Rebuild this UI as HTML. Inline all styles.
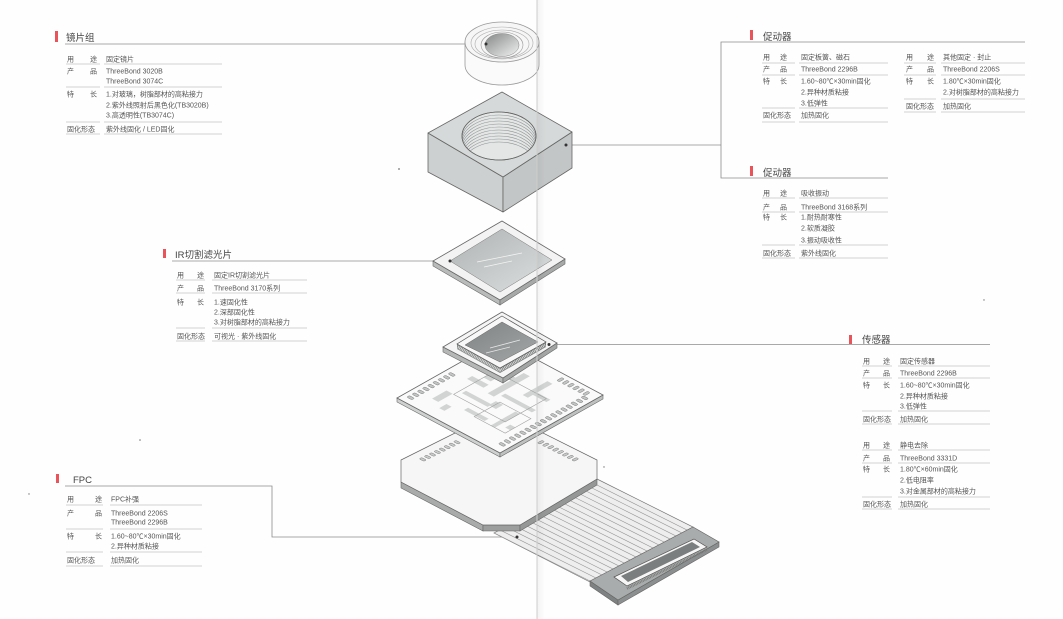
<!DOCTYPE html>
<html><head><meta charset="utf-8">
<style>
html,body{margin:0;padding:0;background:#fefefe;}
body{width:1063px;height:619px;overflow:hidden;}
svg{display:block;}
.t text{font-family:"Liberation Sans","Noto Sans CJK SC",sans-serif;font-size:7px;fill:#555;}
.h{font-family:"Liberation Sans","Noto Sans CJK SC",sans-serif;font-size:9.5px;fill:#444;}
.ln line{stroke:#c2c2c2;stroke-width:0.8;}
.nss{vector-effect:non-scaling-stroke;}
</style></head><body>
<svg width="1063" height="619" viewBox="0 0 1063 619" xmlns="http://www.w3.org/2000/svg">
<defs>
 <linearGradient id="lensg" x1="0" y1="0" x2="1" y2="1"><stop offset="0" stop-color="#858888"/><stop offset="1" stop-color="#f2f2f2"/></linearGradient>
 <linearGradient id="glass" x1="0" y1="0" x2="1" y2="1"><stop offset="0" stop-color="#aeb2b2"/><stop offset="1" stop-color="#dde0e0"/></linearGradient>
 <linearGradient id="chipg" x1="0" y1="0" x2="1" y2="1"><stop offset="0" stop-color="#7f8383"/><stop offset="1" stop-color="#a3a7a7"/></linearGradient>
 <clipPath id="hole"><ellipse cx="499" cy="136" rx="37" ry="24"/></clipPath>
 <clipPath id="cable"><polygon points="597,479 693,527 590,582 494,533"/></clipPath>
 <linearGradient id="fold" x1="0" x2="1"><stop offset="0" stop-color="#000" stop-opacity="0.045"/><stop offset="1" stop-color="#000" stop-opacity="0"/></linearGradient>
</defs>

<!-- connector lines -->
<g stroke="#8c8c8c" stroke-width="0.8" fill="none">
 <line x1="65" y1="44" x2="486" y2="44"/>
 <polyline points="566,145 721,145"/>
 <polyline points="1025,42 721,42 721,178 888,178"/>
 <line x1="172" y1="261" x2="450" y2="261"/>
 <line x1="549" y1="344.5" x2="990" y2="344.5"/>
 <polyline points="65,486 272,486 272,537 517,537"/>
</g>

<!-- ===== FLEX CABLE ===== -->
<polygon points="597,479 693,527 590,582 494,533" fill="#eeeeee" stroke="#777" stroke-width="0.7"/>
<g clip-path="url(#cable)" stroke="#9a9a9a" stroke-width="0.6">
 <line x1="474" y1="523" x2="614" y2="593"/>
 <line x1="480" y1="520" x2="620" y2="590"/>
 <line x1="486" y1="517" x2="626" y2="587"/>
 <line x1="491" y1="514" x2="631" y2="584"/>
 <line x1="497" y1="511" x2="637" y2="581"/>
 <line x1="503" y1="508" x2="643" y2="578"/>
 <line x1="508" y1="505" x2="648" y2="575"/>
 <line x1="514" y1="502" x2="654" y2="572"/>
 <line x1="520" y1="499" x2="660" y2="569"/>
 <line x1="526" y1="496" x2="666" y2="566"/>
 <line x1="531" y1="493" x2="671" y2="563"/>
 <line x1="537" y1="490" x2="677" y2="560"/>
 <line x1="543" y1="487" x2="683" y2="557"/>
 <line x1="548" y1="484" x2="688" y2="554"/>
 <line x1="554" y1="481" x2="694" y2="551"/>
 <line x1="560" y1="478" x2="700" y2="548"/>
 <line x1="566" y1="475" x2="706" y2="545"/>
 <line x1="571" y1="472" x2="711" y2="542"/>
</g>
<!-- connector plate -->
<polygon points="590,581 618,600 618,605 590,586" fill="#7f8282" stroke="#666" stroke-width="0.6"/>
<polygon points="618,600 719,542 719,547 618,605" fill="#8c8f8f" stroke="#666" stroke-width="0.6"/>
<polygon points="590,581 693,527 719,542 618,600" fill="#a9acac" stroke="#666" stroke-width="0.7"/>
<polygon points="614,577 694,539 707,547 627,586" fill="#f6f6f6" stroke="#555" stroke-width="0.7"/>
<polygon points="621,576 692,542 700,547 628,582" fill="#7b7e7e"/>
<line x1="627" y1="588.5" x2="707" y2="549.5" stroke="#777" stroke-width="2.6" stroke-dasharray="0.8 0.8"/>

<!-- ===== BASE (stiffener) ===== -->
<polygon points="401,482 483,525 483,531 401,488" fill="#a9abab" stroke="#666" stroke-width="0.6"/>
<polygon points="483,525 520,525 520,531 483,531" fill="#9c9e9e" stroke="#666" stroke-width="0.6"/>
<polygon points="520,525 597,479 597,485 520,531" fill="#959797" stroke="#666" stroke-width="0.6"/>
<polygon points="401,460 499,411 597,460 597,479 520,525 483,525 401,482" fill="#f6f6f6" stroke="#666" stroke-width="0.7"/>
<g transform="matrix(0.98,0.49,-0.98,0.49,499,411)" fill="#c9cbcb" stroke="#777">
 <rect class="nss" x="8" y="52" width="5" height="2.6" rx="1" stroke-width="0.5"/>
 <rect class="nss" x="8" y="57" width="5" height="2.6" rx="1" stroke-width="0.5"/>
 <rect class="nss" x="8" y="62" width="5" height="2.6" rx="1" stroke-width="0.5"/>
 <rect class="nss" x="8" y="67" width="5" height="2.6" rx="1" stroke-width="0.5"/>
 <rect class="nss" x="8" y="72" width="5" height="2.6" rx="1" stroke-width="0.5"/>
 <rect class="nss" x="8" y="77" width="5" height="2.6" rx="1" stroke-width="0.5"/>
 <rect class="nss" x="8" y="82" width="5" height="2.6" rx="1" stroke-width="0.5"/>
 <rect class="nss" x="8" y="87" width="5" height="2.6" rx="1" stroke-width="0.5"/>
 <rect class="nss" x="52" y="8" width="2.6" height="5" rx="1" stroke-width="0.5"/>
 <rect class="nss" x="57" y="8" width="2.6" height="5" rx="1" stroke-width="0.5"/>
 <rect class="nss" x="62" y="8" width="2.6" height="5" rx="1" stroke-width="0.5"/>
 <rect class="nss" x="67" y="8" width="2.6" height="5" rx="1" stroke-width="0.5"/>
 <rect class="nss" x="72" y="8" width="2.6" height="5" rx="1" stroke-width="0.5"/>
 <rect class="nss" x="77" y="8" width="2.6" height="5" rx="1" stroke-width="0.5"/>
 <rect class="nss" x="82" y="8" width="2.6" height="5" rx="1" stroke-width="0.5"/>
 <rect class="nss" x="87" y="8" width="2.6" height="5" rx="1" stroke-width="0.5"/>
</g>

<!-- ===== PCB ===== -->
<polygon points="397,398 500,453 500,457 397,402" fill="#cfd1d1" stroke="#666" stroke-width="0.6"/>
<polygon points="500,453 603,395 603,399 500,457" fill="#bfc1c1" stroke="#666" stroke-width="0.6"/>
<polygon points="500,340 603,395 500,453 397,398" fill="#fafafa" stroke="#666" stroke-width="0.8"/>
<g transform="matrix(1.03,0.55,-1.03,0.58,500,340)">
 <g fill="#d2d4d4">
  <rect x="15" y="26" width="28" height="5"/>
  <rect x="41" y="18" width="6" height="35"/>
  <rect x="50" y="45" width="30" height="4"/>
  <rect x="18" y="45" width="16" height="5"/>
  <rect x="60" y="14" width="5" height="24"/>
  <rect x="28" y="61" width="25" height="4"/>
  <rect x="71" y="56" width="4" height="24"/>
  <rect x="18" y="70" width="6" height="14"/>
  <rect x="44" y="75" width="20" height="4"/>
  <rect x="62" y="29" width="16" height="4"/>
  <rect x="30" y="82" width="5" height="7"/>
  <rect x="80" y="70" width="5" height="5"/>
  <rect x="52" y="56" width="7" height="7"/>
  <rect x="25" y="35" width="7" height="6"/>
 </g>
 <g fill="none" stroke="#a0a0a0">
  <rect class="nss" x="25" y="30" width="50" height="40" stroke-width="0.6"/>
  <rect class="nss" x="55" y="55" width="30" height="25" stroke-width="0.6"/>
 </g>
 <g fill="#c3c5c5" stroke="#777">
  <rect class="nss" x="4" y="52" width="5" height="2.6" rx="1" stroke-width="0.5"/>
  <rect class="nss" x="4" y="57" width="5" height="2.6" rx="1" stroke-width="0.5"/>
  <rect class="nss" x="4" y="62" width="5" height="2.6" rx="1" stroke-width="0.5"/>
  <rect class="nss" x="4" y="67" width="5" height="2.6" rx="1" stroke-width="0.5"/>
  <rect class="nss" x="4" y="72" width="5" height="2.6" rx="1" stroke-width="0.5"/>
  <rect class="nss" x="4" y="77" width="5" height="2.6" rx="1" stroke-width="0.5"/>
  <rect class="nss" x="4" y="82" width="5" height="2.6" rx="1" stroke-width="0.5"/>
  <rect class="nss" x="4" y="87" width="5" height="2.6" rx="1" stroke-width="0.5"/>
  <rect class="nss" x="4" y="92" width="5" height="2.6" rx="1" stroke-width="0.5"/>
  <rect class="nss" x="64" y="4" width="2.6" height="5" rx="1" stroke-width="0.5"/>
  <rect class="nss" x="69" y="4" width="2.6" height="5" rx="1" stroke-width="0.5"/>
  <rect class="nss" x="74" y="4" width="2.6" height="5" rx="1" stroke-width="0.5"/>
  <rect class="nss" x="79" y="4" width="2.6" height="5" rx="1" stroke-width="0.5"/>
  <rect class="nss" x="84" y="4" width="2.6" height="5" rx="1" stroke-width="0.5"/>
  <rect class="nss" x="89" y="4" width="2.6" height="5" rx="1" stroke-width="0.5"/>
  <rect class="nss" x="91" y="10" width="5" height="2.6" rx="1" stroke-width="0.5"/>
  <rect class="nss" x="91" y="15" width="5" height="2.6" rx="1" stroke-width="0.5"/>
  <rect class="nss" x="91" y="20" width="5" height="2.6" rx="1" stroke-width="0.5"/>
  <rect class="nss" x="91" y="25" width="5" height="2.6" rx="1" stroke-width="0.5"/>
  <rect class="nss" x="91" y="30" width="5" height="2.6" rx="1" stroke-width="0.5"/>
  <rect class="nss" x="91" y="35" width="5" height="2.6" rx="1" stroke-width="0.5"/>
  <rect class="nss" x="91" y="40" width="5" height="2.6" rx="1" stroke-width="0.5"/>
  <rect class="nss" x="91" y="45" width="5" height="2.6" rx="1" stroke-width="0.5"/>
  <rect class="nss" x="91" y="50" width="5" height="2.6" rx="1" stroke-width="0.5"/>
  <rect class="nss" x="91" y="55" width="5" height="2.6" rx="1" stroke-width="0.5"/>
  <rect class="nss" x="91" y="60" width="5" height="2.6" rx="1" stroke-width="0.5"/>
  <rect class="nss" x="91" y="65" width="5" height="2.6" rx="1" stroke-width="0.5"/>
  <rect class="nss" x="91" y="70" width="5" height="2.6" rx="1" stroke-width="0.5"/>
  <rect class="nss" x="91" y="75" width="5" height="2.6" rx="1" stroke-width="0.5"/>
  <rect class="nss" x="91" y="80" width="5" height="2.6" rx="1" stroke-width="0.5"/>
  <rect class="nss" x="91" y="85" width="5" height="2.6" rx="1" stroke-width="0.5"/>
  <rect class="nss" x="91" y="90" width="5" height="2.6" rx="1" stroke-width="0.5"/>
 </g>
</g>

<!-- ===== SENSOR ===== -->
<polygon points="443,347 503,378 503,383 443,352" fill="#b5b7b7" stroke="#666" stroke-width="0.6"/>
<polygon points="503,378 557,343 557,348 503,383" fill="#a4a6a6" stroke="#666" stroke-width="0.6"/>
<polygon points="502,312 557,343 503,378 443,347" fill="#f5f5f5" stroke="#666" stroke-width="0.8"/>
<polygon points="457,344 500,368 500,373 457,349" fill="#8a8c8c"/>
<polygon points="500,368 546,342 546,347 500,373" fill="#7f8181"/>
<line x1="458" y1="347" x2="500" y2="370.5" stroke="#e2e2e2" stroke-width="3" stroke-dasharray="0.8 0.9"/>
<line x1="500" y1="370.5" x2="545" y2="345" stroke="#e2e2e2" stroke-width="3" stroke-dasharray="0.8 0.9"/>
<polygon points="502,316 546,342 500,368 457,344" fill="#f8f8f8" stroke="#555" stroke-width="0.7"/>
<polygon points="502,322 538,342 500,362 465,345" fill="url(#chipg)" stroke="#666" stroke-width="0.5"/>
<line x1="490" y1="348" x2="520" y2="340" stroke="#e8e8e8" stroke-width="0.8"/>
<line x1="486" y1="353" x2="510" y2="347" stroke="#e8e8e8" stroke-width="0.8"/>

<!-- ===== IR FILTER ===== -->
<polygon points="433,261 500,300 500,305 433,266" fill="#b9bbbb" stroke="#666" stroke-width="0.6"/>
<polygon points="500,300 565,259 565,264 500,305" fill="#a7a9a9" stroke="#666" stroke-width="0.6"/>
<polygon points="502,221 565,259 500,300 433,261" fill="#f3f3f3" stroke="#666" stroke-width="0.8"/>
<polygon points="502,229 552,260 500,292 450,261" fill="url(#glass)" stroke="#777" stroke-width="0.5"/>
<line x1="477" y1="262" x2="522" y2="253" stroke="#f4f4f4" stroke-width="0.8"/>
<line x1="484" y1="267" x2="512" y2="261" stroke="#f4f4f4" stroke-width="0.8"/>

<!-- ===== HOUSING ===== -->
<polygon points="428,133 503,177 503,212 428,172" fill="#cdd0d0" stroke="#666" stroke-width="0.8" stroke-linejoin="round"/>
<polygon points="503,177 572,132 572,168 503,212" fill="#c3c6c6" stroke="#666" stroke-width="0.8" stroke-linejoin="round"/>
<polygon points="502,92 572,132 503,177 428,133" fill="#d6d9d9" stroke="#666" stroke-width="0.8" stroke-linejoin="round"/>
<ellipse cx="499" cy="136" rx="37" ry="24" fill="#e4e6e6" stroke="#777" stroke-width="0.8"/>
<g clip-path="url(#hole)" fill="none" stroke="#8f9393" stroke-width="0.6">
 <ellipse cx="499" cy="139" rx="37" ry="24"/>
 <ellipse cx="499" cy="142" rx="37" ry="24"/>
 <ellipse cx="499" cy="145" rx="37" ry="24"/>
 <ellipse cx="499" cy="148" rx="37" ry="24"/>
 <ellipse cx="499" cy="151" rx="37" ry="24"/>
 <ellipse cx="499" cy="154" rx="37" ry="24"/>
 <ellipse cx="499" cy="157" rx="37" ry="24"/>
 <ellipse cx="499" cy="160" rx="37" ry="24"/>
 <ellipse cx="499" cy="163" rx="37" ry="24"/>
 <ellipse cx="499" cy="166" rx="37" ry="24"/>
</g>
<ellipse cx="499" cy="136" rx="37" ry="24" fill="none" stroke="#666" stroke-width="0.8"/>

<!-- ===== LENS ===== -->
<path d="M465,42 L465,65 A37,20 0 0 0 539,65 L539,42 Z" fill="#fafafa" stroke="#999" stroke-width="0.8"/>
<ellipse cx="502" cy="42" rx="37" ry="20" fill="#f6f6f6" stroke="#999" stroke-width="0.8"/>
<ellipse cx="502" cy="43" rx="31" ry="16" fill="none" stroke="#aaa" stroke-width="0.6"/>
<ellipse cx="502" cy="44" rx="27" ry="14" fill="none" stroke="#aaa" stroke-width="0.6"/>
<ellipse cx="502" cy="45" rx="21" ry="13" fill="none" stroke="#999" stroke-width="0.6"/>
<ellipse cx="502" cy="45" rx="17" ry="11.5" fill="url(#lensg)" stroke="#888" stroke-width="0.5"/>

<!-- dots -->
<g fill="#333">
 <circle cx="486" cy="44" r="1.5"/>
 <circle cx="566" cy="145" r="1.5"/>
 <circle cx="450" cy="261" r="1.5"/>
 <circle cx="549" cy="344.5" r="1.5"/>
 <circle cx="517" cy="537" r="1.5"/>
</g>
<g fill="#777">
 <circle cx="140" cy="440" r="0.8"/>
 <circle cx="29" cy="494" r="0.7"/>
 <circle cx="604" cy="467" r="0.7"/>
 <circle cx="399" cy="169" r="0.9"/>
 <circle cx="984" cy="300" r="0.7"/>
</g>

<!-- fold -->
<rect x="537" y="0" width="8" height="619" fill="url(#fold)"/>
<line x1="537" y1="0" x2="537" y2="619" stroke="#cdcdcd" stroke-width="1"/>

<!-- ===== TITLES ===== -->
<g fill="#e8545a">
 <rect x="55" y="31" width="3" height="11"/>
 <rect x="750" y="30" width="3" height="10"/>
 <rect x="750" y="166" width="3" height="10"/>
 <rect x="163" y="249" width="3" height="9"/>
 <rect x="849" y="335" width="3" height="9"/>
 <rect x="56" y="474" width="3" height="9"/>
</g>
<text class="h" x="66" y="41">镜片组</text>
<text class="h" x="763" y="40">促动器</text>
<text class="h" x="763" y="176">促动器</text>
<text class="h" x="175" y="258">IR切割滤光片</text>
<text class="h" x="862" y="343">传感器</text>
<text class="h" x="73" y="483">FPC</text>

<!-- ===== TOP-LEFT BLOCK ===== -->
<g class="ln">
 <line x1="66" y1="64" x2="100" y2="64"/><line x1="104" y1="64" x2="222" y2="64"/>
 <line x1="66" y1="87" x2="100" y2="87"/><line x1="104" y1="87" x2="222" y2="87"/>
 <line x1="66" y1="122" x2="100" y2="122"/><line x1="104" y1="122" x2="222" y2="122"/>
 <line x1="66" y1="134" x2="100" y2="134"/><line x1="104" y1="134" x2="222" y2="134"/>
</g>
<g class="t">
 <text x="67" y="61.5">用</text><text x="90" y="61.5">途</text><text x="106" y="61.5">固定镜片</text>
 <text x="67" y="73.5">产</text><text x="90" y="73.5">品</text><text x="106" y="73.5">ThreeBond 3020B</text>
 <text x="106" y="83.5">ThreeBond 3074C</text>
 <text x="67" y="96.5">特</text><text x="90" y="96.5">长</text><text x="106" y="96.5">1.对玻璃，树脂部材的高粘接力</text>
 <text x="106" y="107.5">2.紫外线照射后黑色化(TB3020B)</text>
 <text x="106" y="117.5">3.高透明性(TB3074C)</text>
 <text x="67" y="131.5">固化形态</text><text x="106" y="131.5">紫外线固化 / LED固化</text>
</g>

<!-- ===== TOP-RIGHT BLOCK ===== -->
<g class="ln">
 <line x1="762" y1="63" x2="795" y2="63"/><line x1="799" y1="63" x2="888" y2="63"/>
 <line x1="762" y1="75" x2="795" y2="75"/><line x1="799" y1="75" x2="888" y2="75"/>
 <line x1="762" y1="108" x2="795" y2="108"/><line x1="799" y1="108" x2="888" y2="108"/>
 <line x1="762" y1="122" x2="795" y2="122"/><line x1="799" y1="122" x2="888" y2="122"/>
 <line x1="904" y1="63" x2="936" y2="63"/><line x1="941" y1="63" x2="1025" y2="63"/>
 <line x1="904" y1="75" x2="936" y2="75"/><line x1="941" y1="75" x2="1025" y2="75"/>
 <line x1="904" y1="99" x2="936" y2="99"/><line x1="941" y1="99" x2="1025" y2="99"/>
 <line x1="904" y1="112" x2="936" y2="112"/><line x1="941" y1="112" x2="1025" y2="112"/>
</g>
<g class="t">
 <text x="763" y="59.5">用</text><text x="780" y="59.5">途</text><text x="801" y="59.5">固定板簧、磁石</text>
 <text x="763" y="71.5">产</text><text x="780" y="71.5">品</text><text x="801" y="71.5">ThreeBond 2296B</text>
 <text x="763" y="83.5">特</text><text x="780" y="83.5">长</text><text x="801" y="83.5">1.60~80℃×30min固化</text>
 <text x="801" y="94.5">2.异种材质粘接</text>
 <text x="801" y="105.5">3.低弹性</text>
 <text x="763" y="117.5">固化形态</text><text x="801" y="117.5">加热固化</text>

 <text x="906" y="59.5">用</text><text x="927" y="59.5">途</text><text x="943" y="59.5">其他固定 · 封止</text>
 <text x="906" y="71.5">产</text><text x="927" y="71.5">品</text><text x="943" y="71.5">ThreeBond 2206S</text>
 <text x="906" y="83.5">特</text><text x="927" y="83.5">长</text><text x="943" y="83.5">1.80℃×30min固化</text>
 <text x="943" y="94.5">2.对树脂部材的高粘接力</text>
 <text x="906" y="108.5">固化形态</text><text x="943" y="108.5">加热固化</text>
</g>

<!-- ===== MIDDLE-RIGHT BLOCK ===== -->
<g class="ln">
 <line x1="762" y1="198" x2="795" y2="198"/><line x1="799" y1="198" x2="888" y2="198"/>
 <line x1="762" y1="212" x2="795" y2="212"/><line x1="799" y1="212" x2="888" y2="212"/>
 <line x1="762" y1="245" x2="795" y2="245"/><line x1="799" y1="245" x2="888" y2="245"/>
 <line x1="762" y1="258" x2="795" y2="258"/><line x1="799" y1="258" x2="888" y2="258"/>
</g>
<g class="t">
 <text x="763" y="195.5">用</text><text x="780" y="195.5">途</text><text x="801" y="195.5">吸收振动</text>
 <text x="763" y="209.5">产</text><text x="780" y="209.5">品</text><text x="801" y="209.5">ThreeBond 3168系列</text>
 <text x="763" y="219.5">特</text><text x="780" y="219.5">长</text><text x="801" y="219.5">1.耐热耐寒性</text>
 <text x="801" y="230.5">2.软质凝胶</text>
 <text x="801" y="242.5">3.振动吸收性</text>
 <text x="763" y="255.5">固化形态</text><text x="801" y="255.5">紫外线固化</text>
</g>

<!-- ===== IR BLOCK ===== -->
<g class="ln">
 <line x1="176" y1="280" x2="205" y2="280"/><line x1="212" y1="280" x2="307" y2="280"/>
 <line x1="176" y1="293" x2="205" y2="293"/><line x1="212" y1="293" x2="307" y2="293"/>
 <line x1="176" y1="328" x2="205" y2="328"/><line x1="212" y1="328" x2="307" y2="328"/>
 <line x1="176" y1="341" x2="205" y2="341"/><line x1="212" y1="341" x2="307" y2="341"/>
</g>
<g class="t">
 <text x="177" y="277.5">用</text><text x="197" y="277.5">途</text><text x="214" y="277.5">固定IR切割滤光片</text>
 <text x="177" y="290.5">产</text><text x="197" y="290.5">品</text><text x="214" y="290.5">ThreeBond 3170系列</text>
 <text x="177" y="304.5">特</text><text x="197" y="304.5">长</text><text x="214" y="304.5">1.速固化性</text>
 <text x="214" y="314.5">2.深部固化性</text>
 <text x="214" y="324.5">3.对树脂部材的高粘接力</text>
 <text x="177" y="338.5">固化形态</text><text x="214" y="338.5">可视光 · 紫外线固化</text>
</g>

<!-- ===== SENSOR BLOCK ===== -->
<g class="ln">
 <line x1="862" y1="366" x2="892" y2="366"/><line x1="898" y1="366" x2="990" y2="366"/>
 <line x1="862" y1="378" x2="892" y2="378"/><line x1="898" y1="378" x2="990" y2="378"/>
 <line x1="862" y1="411" x2="892" y2="411"/><line x1="898" y1="411" x2="990" y2="411"/>
 <line x1="862" y1="424" x2="892" y2="424"/><line x1="898" y1="424" x2="990" y2="424"/>
 <line x1="862" y1="450" x2="892" y2="450"/><line x1="898" y1="450" x2="990" y2="450"/>
 <line x1="862" y1="463" x2="892" y2="463"/><line x1="898" y1="463" x2="990" y2="463"/>
 <line x1="862" y1="497" x2="892" y2="497"/><line x1="898" y1="497" x2="990" y2="497"/>
 <line x1="862" y1="509" x2="892" y2="509"/><line x1="898" y1="509" x2="990" y2="509"/>
</g>
<g class="t">
 <text x="863" y="363.5">用</text><text x="883" y="363.5">途</text><text x="900" y="363.5">固定传感器</text>
 <text x="863" y="375.5">产</text><text x="883" y="375.5">品</text><text x="900" y="375.5">ThreeBond 2296B</text>
 <text x="863" y="387.5">特</text><text x="883" y="387.5">长</text><text x="900" y="387.5">1.60~80℃×30min固化</text>
 <text x="900" y="398.5">2.异种材质粘接</text>
 <text x="900" y="408.5">3.低弹性</text>
 <text x="863" y="421.5">固化形态</text><text x="900" y="421.5">加热固化</text>

 <text x="863" y="447.5">用</text><text x="883" y="447.5">途</text><text x="900" y="447.5">静电去除</text>
 <text x="863" y="460.5">产</text><text x="883" y="460.5">品</text><text x="900" y="460.5">ThreeBond 3331D</text>
 <text x="863" y="471.5">特</text><text x="883" y="471.5">长</text><text x="900" y="471.5">1.80℃×60min固化</text>
 <text x="900" y="482.5">2.低电阻率</text>
 <text x="900" y="493.5">3.对金属部材的高粘接力</text>
 <text x="863" y="506.5">固化形态</text><text x="900" y="506.5">加热固化</text>
</g>

<!-- ===== FPC BLOCK ===== -->
<g class="ln">
 <line x1="66" y1="505" x2="103" y2="505"/><line x1="110" y1="505" x2="202" y2="505"/>
 <line x1="66" y1="529" x2="103" y2="529"/><line x1="110" y1="529" x2="202" y2="529"/>
 <line x1="66" y1="552" x2="103" y2="552"/><line x1="110" y1="552" x2="202" y2="552"/>
 <line x1="66" y1="566" x2="103" y2="566"/><line x1="110" y1="566" x2="202" y2="566"/>
</g>
<g class="t">
 <text x="67" y="501.5">用</text><text x="95" y="501.5">途</text><text x="111" y="501.5">FPC补强</text>
 <text x="67" y="515.5">产</text><text x="95" y="515.5">品</text><text x="111" y="515.5">ThreeBond 2206S</text>
 <text x="111" y="524.5">ThreeBond 2296B</text>
 <text x="67" y="538.5">特</text><text x="95" y="538.5">长</text><text x="111" y="538.5">1.60~80℃×30min固化</text>
 <text x="111" y="548.5">2.异种材质粘接</text>
 <text x="67" y="562.5">固化形态</text><text x="111" y="562.5">加热固化</text>
</g>
</svg>
</body></html>
